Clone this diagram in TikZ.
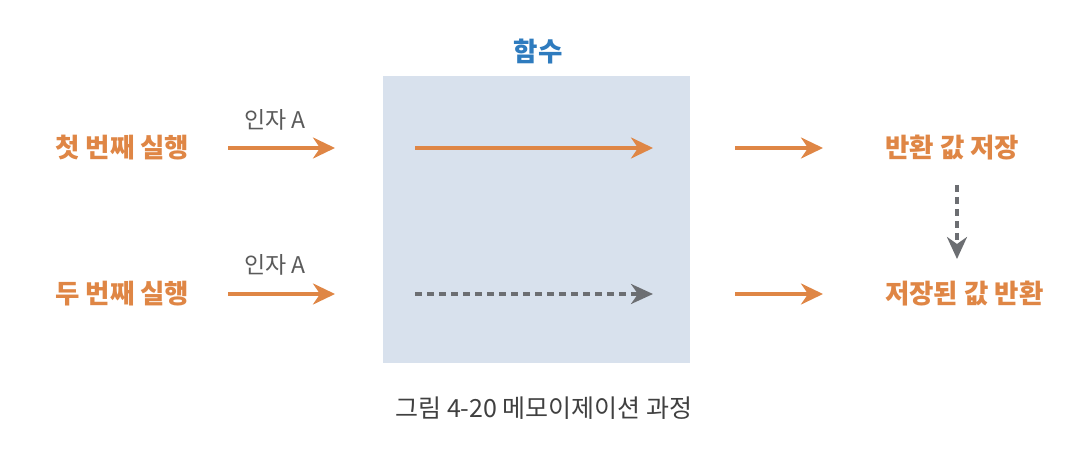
\documentclass[tikz,border=0pt]{standalone}
\usepackage{fontspec}
\newfontfamily\kr{Noto Sans CJK KR}
\usetikzlibrary{arrows.meta}
\definecolor{orng}{RGB}{223,134,69}
\definecolor{ttlblue}{RGB}{46,123,190}
\definecolor{arrgray}{RGB}{108,110,114}
\definecolor{boxfill}{RGB}{216,225,237}
\definecolor{captgray}{RGB}{64,64,64}
\definecolor{lblgray}{RGB}{90,90,90}
\tikzset{
  lbl/.style={font=\kr\bfseries\fontsize{26.5}{30}\selectfont, text=orng, inner sep=0pt},
  arglbl/.style={font=\kr\fontsize{23}{26}\selectfont, text=lblgray, inner sep=0pt},
  oarrow/.style={draw=orng, line width=3.5pt, -{Stealth[length=22pt,width=21pt,inset=7pt]}},
  garrow/.style={draw=arrgray, line width=3.5pt, dash pattern=on 7pt off 5pt, -{Stealth[length=22pt,width=20pt,inset=7pt]}},
}
\begin{document}
\begin{tikzpicture}[x=1pt,y=-1pt]
\useasboundingbox (0,0) rectangle (1088,468);
\node[fill=boxfill, minimum width=307pt, minimum height=287pt, inner sep=0pt, anchor=north west] (box) at (383,76) {};
\node[font=\kr\bfseries\fontsize{26.5}{30}\selectfont, text=ttlblue, inner sep=0pt] (title) at (538,52) {함수};
\node[lbl, anchor=west] (run1) at (55,148) {첫 번째 실행};
\node[lbl, anchor=west] (run2) at (55,294) {두 번째 실행};
\node[arglbl] (arg1) at (275,120) {인자 A};
\node[arglbl] (arg2) at (275,265) {인자 A};
\node[lbl, anchor=west] (res1) at (885,148) {반환 값 저장};
\node[lbl, anchor=west] (res2) at (885,294) {저장된 값 반환};
\node[font=\kr\fontsize{25}{28}\selectfont, text=captgray, inner sep=0pt] (cap) at (544,408) {그림 4-20 메모이제이션 과정};
\coordinate (a1s) at (228,148); \coordinate (a1e) at (335,148);
\coordinate (a2s) at (228,294); \coordinate (a2e) at (335,294);
\coordinate (b1s) at (415,148); \coordinate (b1e) at (653,148);
\coordinate (b2s) at (415,294); \coordinate (b2e) at (653,294);
\coordinate (c1s) at (735,148); \coordinate (c1e) at (823,148);
\coordinate (c2s) at (735,294); \coordinate (c2e) at (823,294);
\coordinate (vs) at (957,185); \coordinate (ve) at (957,259);
\draw[oarrow] (a1s) -- (a1e);
\draw[oarrow] (a2s) -- (a2e);
\draw[oarrow] (b1s) -- (b1e);
\draw[garrow] (b2s) -- (b2e);
\draw[oarrow] (c1s) -- (c1e);
\draw[oarrow] (c2s) -- (c2e);
\draw[garrow] (vs) -- (ve);
\end{tikzpicture}
\end{document}
